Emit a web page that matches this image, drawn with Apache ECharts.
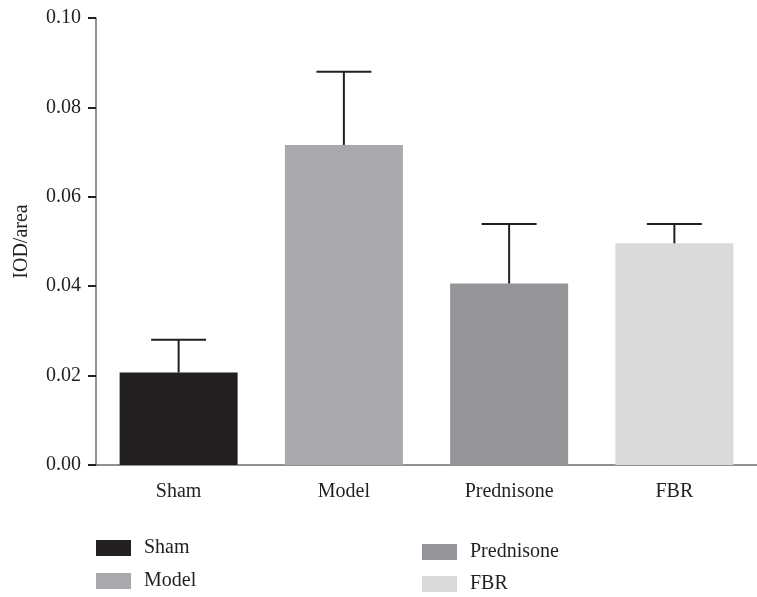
<!DOCTYPE html>
<html>
<head>
<meta charset="utf-8">
<script src="https://cdn.jsdelivr.net/npm/echarts@6/dist/echarts.min.js"></script>
<style>html,body{margin:0;padding:0;background:#fff;}#c{width:757px;height:597px;}</style>
</head>
<body>
<div id="c"></div>
<script>
var categories = ['Sham', 'Model', 'Prednisone', 'FBR'];
var means = [0.0207, 0.0716, 0.0406, 0.0496];
var upper = [0.0280, 0.0880, 0.0539, 0.0539];
var colors = ['#231f20', '#a7a9ac', '#939598', '#d9dadb'];
var yTicks = [0, 0.02, 0.04, 0.06, 0.08, 0.10];

var FONT = '"Liberation Serif", "DejaVu Serif", serif';
var chart = echarts.init(document.getElementById('c'));

var series = categories.map(function (name, i) {
  return {
    name: name,
    type: 'bar',
    barWidth: 118,
    barGap: '-100%',
    itemStyle: { color: colors[i] },
    data: categories.map(function (c, j) { return j === i ? means[i] : '-'; }),
    z: 2
  };
});

series.push({
  type: 'custom',
  name: 'err',
  z: 5,
  data: categories.map(function (c, i) { return [i, means[i], upper[i]]; }),
  renderItem: function (params, api) {
    var base = api.coord([api.value(0), api.value(1)]);
    var top = api.coord([api.value(0), api.value(2)]);
    var hw = 27.5;
    var st = { stroke: '#231f20', lineWidth: 2 };
    return {
      type: 'group',
      children: [
        { type: 'line', shape: { x1: base[0], y1: base[1], x2: top[0], y2: top[1] }, style: st },
        { type: 'line', shape: { x1: top[0] - hw, y1: top[1], x2: top[0] + hw, y2: top[1] }, style: st }
      ]
    };
  }
});

var legendText = { fontFamily: FONT, fontSize: 20, lineHeight: 16, color: '#231f20', padding: [0, 0, 0, 8] };
var legendPos = [[96, 538], [96, 571], [422, 542], [422, 574]];

chart.setOption({
  backgroundColor: '#ffffff',
  animation: false,
  grid: { left: 96, right: -7, top: 18, bottom: 132, containLabel: false },
  legend: categories.map(function (name, i) {
    return {
      data: [name], orient: 'vertical', left: legendPos[i][0], top: legendPos[i][1],
      itemWidth: 35, itemHeight: 16, icon: 'rect',
      textStyle: legendText, padding: 0, selectedMode: false
    };
  }),
  xAxis: {
    type: 'category',
    data: categories,
    axisLine: { lineStyle: { color: '#6d6e71', width: 1.5 } },
    axisTick: { alignWithLabel: true, length: 7, lineStyle: { color: '#231f20', width: 2 } },
    axisLabel: { fontFamily: FONT, fontSize: 20, color: '#231f20', margin: 17 }
  },
  yAxis: {
    type: 'value',
    min: 0, max: 0.1, interval: 0.02,
    name: 'IOD/area',
    nameLocation: 'middle',
    nameGap: 64,
    nameTextStyle: { fontFamily: FONT, fontSize: 20, color: '#231f20' },
    axisLine: { show: true, lineStyle: { color: '#6d6e71', width: 1.5 } },
    axisTick: { show: true, length: 8, lineStyle: { color: '#231f20', width: 2 } },
    splitLine: { show: false },
    axisLabel: {
      fontFamily: FONT, fontSize: 20, color: '#231f20', margin: 15,
      formatter: function (v) {
        for (var k = 0; k < yTicks.length; k++) { if (Math.abs(yTicks[k] - v) < 1e-9) return yTicks[k].toFixed(2); }
        return '';
      }
    }
  },
  series: series
});
</script>
</body>
</html>
